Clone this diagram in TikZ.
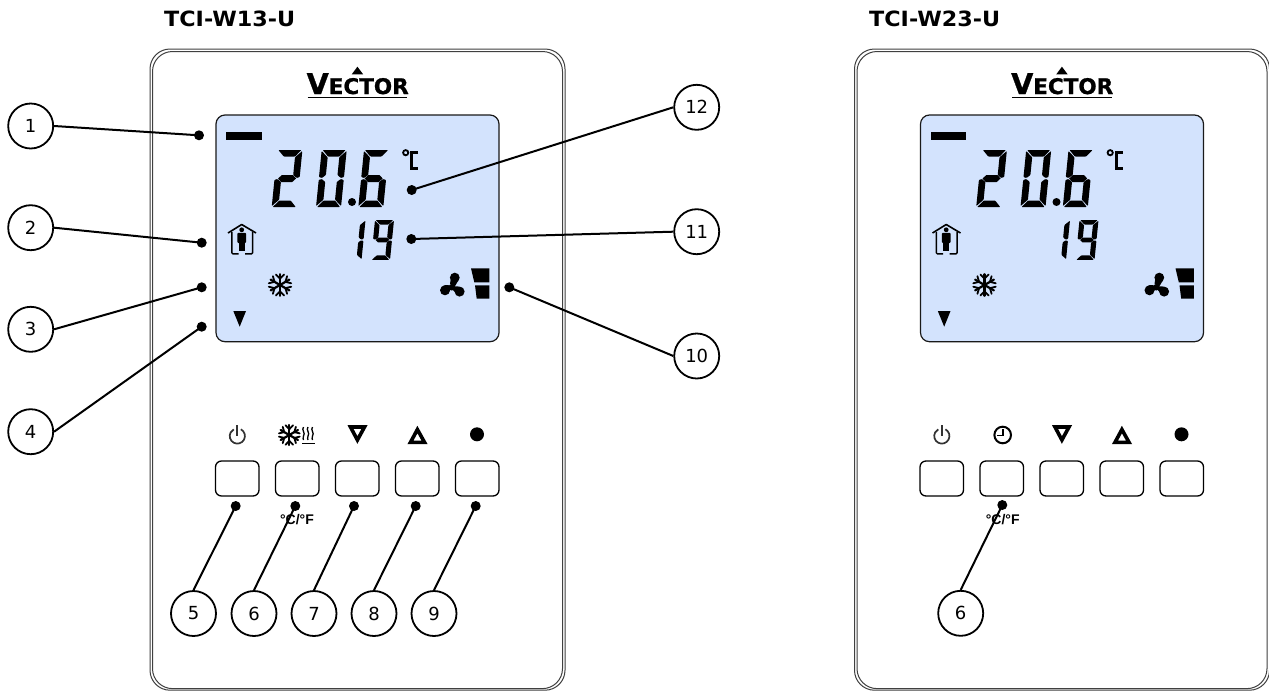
\documentclass[tikz,border=0pt]{standalone}
\usepackage{fontspec}
\setmainfont{DejaVu Sans}
\newfontfamily\arialfont{Liberation Sans}
\newfontfamily\logofont[BoldFeatures={FakeBold=1}]{DejaVu Sans}
\definecolor{lcdblue}{HTML}{D3E3FD}
\definecolor{icongray}{HTML}{333333}
\newcommand\segA{\fill[rounded corners=.7pt] (1,0)--(24,0)--(18.3,6.5)--(7,6.5)--cycle;}
\newcommand\segB{\fill[rounded corners=.7pt] (25,1)--(25,27)--(22,28)--(18.3,25)--(18.3,7.3)--cycle;}
\newcommand\segC{\fill[rounded corners=.7pt] (25,30)--(25,56)--(18.3,49.7)--(18.3,32)--(22,29)--cycle;}
\newcommand\segD{\fill[rounded corners=.7pt] (24,57)--(1,57)--(7,50.5)--(18.3,50.5)--cycle;}
\newcommand\segE{\fill[rounded corners=.7pt] (0,56)--(0,30)--(3,29)--(6.7,32)--(6.7,49.7)--cycle;}
\newcommand\segF{\fill[rounded corners=.7pt] (0,1)--(0,27)--(3,28)--(6.7,25)--(6.7,7.3)--cycle;}
\newcommand\segG{\fill (3.5,28.5)--(7,25)--(18,25)--(21.5,28.5)--(18,32)--(7,32)--cycle;}
% #1 x, #2 y, #3 xscale, #4 yscale, #5 segments
\newcommand\lcddigit[5]{\begin{scope}[shift={(#1,#2)},xslant=0.1,xscale=#3,yscale=#4]#5\end{scope}}
\newcommand\flake[3]{% x y radius
  \begin{scope}[shift={(#1,#2)},line cap=round]
    \foreach \a in {0,60,...,300}{
      \begin{scope}[rotate=\a+30]
        \draw[line width=2.2pt] (0,0)--(#3,0);
        \draw[line width=1.8pt] (#3*0.98,#3*0.38)--(#3*0.58,0)--(#3*0.98,-#3*0.38);
      \end{scope}}
  \end{scope}}
\newcommand\powericon[2]{%
  \draw[icongray,line width=1.7pt] (#1+3.6,#2-6.7) arc[start angle=-62,end angle=242,radius=7.6];
  \draw[icongray,line width=1.8pt] (#1,#2-11)--(#1,#2);}
\newcommand\device[1]{%
  \begin{scope}[shift={(#1,0)}]
    \draw[bezel] (150,49) rectangle (565,690.2);
    \draw[bezel] (152.5,51.5) rectangle (562.5,688.6);
    \node[logotext] (logo#1) at (306.5,94) {{\fontsize{28.5}{29}\selectfont V}{\fontsize{21.5}{22}\selectfont ECTOR}};
    \fill (351.7,74.4)--(357.4,66.7)--(363.2,74.4)--cycle;
    \draw[line width=1.4pt] (307.5,97.3)--(407,97.3);
    \draw[lcdpanel] (216,115) rectangle (499,341.7);
    \fill (226,132.3) rectangle (261.7,140.3);
    \lcddigit{277.4}{150}{1}{1}{\segA\segB\segG\segE\segD}
    \lcddigit{321.7}{150}{1}{1}{\segA\segB\segC\segD\segE\segF}
    \fill (352,202) circle[radius=4];
    \lcddigit{364}{150}{1}{1}{\segA\segF\segG\segE\segC\segD}
    \node[hiddentext] (big#1) at (332,178) {20.6};
    \draw[line width=1.8pt] (405.7,152.7) circle[radius=2.6];
    \draw[line width=2.6pt] (418,152.5)--(411.7,152.5)--(411.7,168.4)--(418,168.4);
    \lcddigit{346.5}{220}{0.76}{0.7}{\segB\segC}
    \lcddigit{375}{220}{0.76}{0.7}{\segA\segB\segC\segD\segF\segG}
    \node[hiddentext] (small#1) at (374,240) {19};
    % occupied house
    \draw[line width=1.6pt,line join=round] (228,233)--(241.7,224.5)--(256,233);
    \draw[line width=1.4pt,rounded corners=1pt] (231.8,232)--(231.8,253.8)--(238.5,253.8);
    \draw[line width=1.4pt,rounded corners=1pt] (252.6,232)--(252.6,253.8)--(245,253.8);
    \fill (241.7,229.8) circle[radius=2.4];
    \fill[rounded corners=1pt] (237.3,232.8) rectangle (246.2,243);
    \fill (238.8,242) rectangle (244.8,251);
    \flake{280}{285}{10.8}
    % fan
    \fill (451.7,287.3) circle[radius=3.2];
    \fill (454.8,277.6) circle[radius=4.9];
    \fill (445,290.3) circle[radius=5];
    \fill (459.6,291.6) circle[radius=5];
    \fill (450,284) -- (451,277) -- (458,281) -- (454.5,287) -- cycle;
    \fill (443,286) .. controls (447,284) and (450,285) .. (452,287) -- (449,292) -- cycle;
    \fill (452,289) .. controls (453,286) and (456,285) .. (462,288) -- (458,295) -- cycle;
    \fill (471,268.3)--(489.3,268.3)--(489.3,282.3)--(474.3,282.3)--cycle;
    \fill (475,285.3)--(489.3,285.3)--(489.3,298.7)--(476.7,298.7)--cycle;
    \fill (233.3,311)--(246,311)--(239.7,326.7)--cycle;
    % buttons
    \foreach \bx in {216,276,336,396,456}{
      \draw[keycap] (\bx-.5,461) rectangle (\bx+43,496);}
    \powericon{237.3}{436}
    \draw[line width=3.6pt,line join=miter] (350.5,427)--(364.5,427)--(357.4,440)--cycle;
    \draw[line width=3.6pt,line join=miter] (410.5,442.3)--(424.5,442.3)--(417.4,429.5)--cycle;
    \fill (477,434.3) circle[radius=7];
  \end{scope}}
\tikzset{
  bezel/.style={draw=black!75,line width=1pt,rounded corners=20pt},
  lcdpanel/.style={draw=black!90,fill=lcdblue,line width=1.2pt,rounded corners=9pt},
  keycap/.style={draw=black,fill=white,line width=1.3pt,rounded corners=6pt},
  logotext/.style={anchor=base west,inner sep=0pt,font=\logofont\bfseries},
  hiddentext/.style={text opacity=0,inner sep=0pt,font=\itshape\fontsize{28}{28}\selectfont},
  callout/.style={circle,draw=black,fill=white,line width=1.8pt,minimum size=45pt,inner sep=0pt,font=\fontsize{18}{18}\selectfont},
  pin/.style={circle,fill=black,minimum size=10pt,inner sep=0pt},
  leader/.style={line width=2pt,draw=black},
  unit/.style={inner sep=0pt,font=\arialfont\bfseries\fontsize{14}{14}\selectfont},
  title/.style={anchor=west,inner sep=0pt,xscale=1.06,font=\bfseries\fontsize{21}{22}\selectfont}
}
\begin{document}
\begin{tikzpicture}[x=1pt,y=-1pt]
\useasboundingbox (0,0) rectangle (1269,691);
\fill[white] (0,0) rectangle (1269,691);
\node[title] (t1) at (164,18.4) {TCI-W13-U};
\node[title] (t2) at (869,18.4) {TCI-W23-U};
\device{0}
\device{704.5}
% left device key icons
\flake{289.3}{435}{10}
\begin{scope}[line width=1.3pt]
  \foreach \hx in {303.5,308,312.5}{
    \draw (\hx,427) .. controls (\hx-2.5,430) and (\hx+2.5,433) .. (\hx,436) .. controls (\hx-1,438) and (\hx,439) .. (\hx,440);}
  \draw[line width=1.5pt] (302,443.5)--(315,443.5);
\end{scope}
% right device clock icon
\draw[line width=2pt] (1002.7,435) circle[radius=8.3];
\draw[line width=1.8pt] (1003.2,429)--(1003.2,435.5)--(997,435.5);
\node[unit] (u1) at (297,520) {°C/°F};
\node[unit] (u2) at (1002.7,519.5) {°C/°F};
% callouts
\foreach \n/\x/\y in {1/30.7/126,2/30.7/227.7,3/30.7/329.3,4/30.7/431.7,5/193.5/613.5,6/254/613.5,7/314/613.5,8/374/613.5,9/434/613.5,10/696.7/356,11/696.7/231.7,12/696.7/107.3}{
  \node[callout] (c\n) at (\x,\y) {\n};}
\node[callout] (c6r) at (960.7,613.3) {6};
\foreach \n/\x/\y in {1/199/135.3,2/201.7/242.7,3/201.7/287.3,4/201.7/326.7,5/235.7/506,6/295.3/506,7/354/506,8/415.7/506,9/475.7/506,10/509.3/287.3,11/411.3/239,12/411.7/190}{
  \node[pin] (d\n) at (\x,\y) {};}
\node[pin] (d6r) at (1002.3,505) {};
\foreach \n in {1,...,4}{\draw[leader] (c\n.east) -- (d\n.center);}
\foreach \n in {5,...,9}{\draw[leader] (c\n.north) -- (d\n.center);}
\foreach \n in {10,11,12}{\draw[leader] (c\n.west) -- (d\n.center);}
\draw[leader] (c6r.north) -- (d6r.center);
\end{tikzpicture}
\end{document}
